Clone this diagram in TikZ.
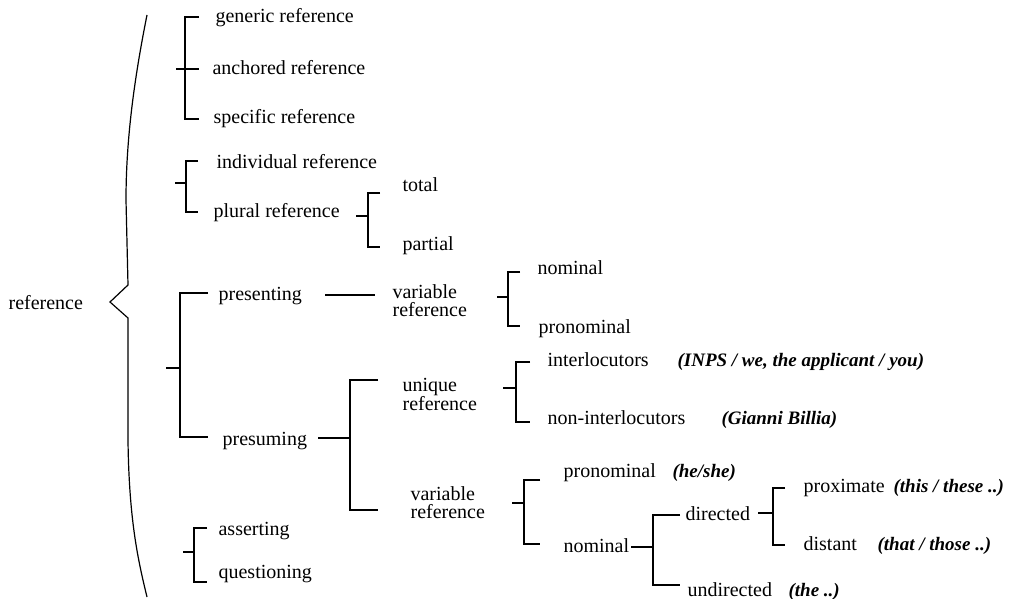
\documentclass[tikz,border=0pt]{standalone}
\usepackage{fontspec}
\setmainfont{Liberation Serif}
\newcommand\brkt[6]{% stem start x, spine x, top y, bottom y, stem y, tick end x
  \draw (#1,#5) -- (#2,#5);
  \draw (#6,#3) -- (#2,#3) -- (#2,#4) -- (#6,#4);}
\begin{document}
\begin{tikzpicture}[x=1pt,y=-1pt,line width=1.2pt,line cap=butt,
  lbl/.style={anchor=base west,inner sep=0pt,font=\fontsize{20}{18}\selectfont},
  ex/.style={anchor=base west,inner sep=0pt,font=\fontsize{19}{18}\selectfont\bfseries\itshape}]
\useasboundingbox (0,0) rectangle (1018,599);
% root and brace
\node[lbl] (root) at (8,309) {reference};
\draw (147,15) .. controls (134,80) and (126,140) .. (126,200) -- (128,285)
  -- (110,302) -- (128,318) -- (128,440) .. controls (129,520) and (138,560) .. (147,597);
% group 1
\node[lbl] (gen) at (215,23) {generic reference};
\node[lbl] (anc) at (212,75) {anchored reference};
\node[lbl] (spec) at (213,124) {specific reference};
\brkt{176}{185}{17}{119}{69}{199}
\draw (185,69) -- (199,69);
% group 2
\node[lbl] (indiv) at (216,168) {individual reference};
\node[lbl] (plural) at (213,218) {plural reference};
\brkt{175}{186}{161}{212}{183}{198}
\node[lbl] (total) at (402,192) {total};
\node[lbl] (partial) at (402,250) {partial};
\brkt{356}{368}{193}{247}{216}{380}
% group 3
\node[lbl] (presenting) at (218,300) {presenting};
\node[lbl] (presuming) at (222,445) {presuming};
\brkt{166}{180}{293}{437}{368}{208}
\node[lbl] (varA) at (392,298) {\vtop{\baselineskip=18pt\hbox{variable}\hbox{reference}}};
\draw (325,295) -- (375,295);
\node[lbl] (nomA) at (537,274) {nominal};
\node[lbl] (pronA) at (538,333) {pronominal};
\brkt{497}{508}{272}{326}{297}{520}
\brkt{318}{350}{380}{510}{438}{378}
\node[lbl] (uniq) at (402,391) {\vtop{\baselineskip=17pt\hbox{unique}\hbox{reference}}};
\node[lbl] (inter) at (547,366) {interlocutors};
\node[ex] (exinter) at (677,366) {(INPS / we, the applicant / you)};
\node[lbl] (noninter) at (547,424) {non-interlocutors};
\node[ex] (exnon) at (721,424) {(Gianni Billia)};
\brkt{503}{516}{362}{422}{388}{530}
\node[lbl] (varB) at (410,500) {\vtop{\baselineskip=18pt\hbox{variable}\hbox{reference}}};
\node[lbl] (pronB) at (563,477) {pronominal};
\node[ex] (expron) at (672,477) {(he/she)};
\node[lbl] (nomB) at (563,552) {nominal};
\brkt{512}{524}{480}{544}{503}{540}
\node[lbl] (dir) at (685,520) {directed};
\node[lbl] (undir) at (687,596) {undirected};
\node[ex] (exundir) at (788,596) {(the ..)};
\brkt{631}{653}{515}{585}{547}{680}
\node[lbl] (prox) at (803,492) {proximate};
\node[ex] (exprox) at (893,492) {(this / these ..)};
\node[lbl] (dist) at (803,550) {distant};
\node[ex] (exdist) at (877,550) {(that / those ..)};
\brkt{758}{773}{488}{545}{513}{785}
% group 4
\node[lbl] (assert) at (218,535) {asserting};
\node[lbl] (quest) at (218,578) {questioning};
\brkt{183}{194}{528}{582}{552}{207}
\end{tikzpicture}
\end{document}
